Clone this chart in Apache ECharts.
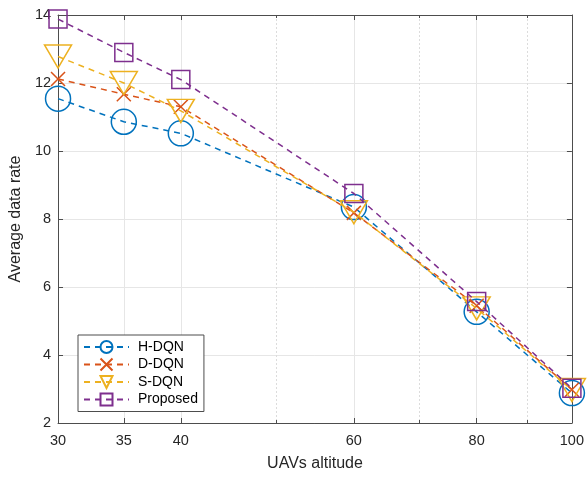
<!DOCTYPE html>
<html><head><meta charset="utf-8">
<script src="https://cdn.jsdelivr.net/npm/echarts@6/dist/echarts.min.js"></script>
<style>html,body{margin:0;padding:0;background:#fff}#c{width:587px;height:477px}</style>
</head><body><div id="c"></div>
<script>
const altitudes = [30, 35, 40, 60, 80, 100];
const hdqn = [11.54, 10.86, 10.52, 8.35, 5.27, 2.88];
const ddqn = [12.12, 11.67, 11.30, 8.18, 5.45, 2.98];
const sdqn = [12.78, 12.00, 11.18, 8.20, 5.37, 2.97];
const proposed = [13.88, 12.90, 12.10, 8.75, 5.57, 3.02];
const xTickLabels = [30, 35, 40, 60, 80, 100];
const xMinorTicks = [50, 70, 90];
const yTicks = [2, 4, 6, 8, 10, 12, 14];

const FONT = 'Liberation Sans, Arial, sans-serif';
const TXT = '#262626';
const AX = '#4d4d4d';
const names = ['H-DQN', 'D-DQN', 'S-DQN', 'Proposed'];
const colors = ['#0072BD', '#D95319', '#EDB120', '#7E2F8E'];
const symbols = ['circle', 'path://M0,0L10,10M10,0L0,10', 'path://M0,0L20,0L10,17.3Z', 'rect'];
const sizes = [25, 14, [27, 23], 18];
const datas = [hdqn, ddqn, sdqn, proposed];

const chart = echarts.init(document.getElementById('c'));
const grid = {left: 53, right: 14, top: 15, bottom: 51};
const xCommon = {type: 'log', logBase: 10, min: 30, max: 100};
chart.setOption({
  animation: false,
  grid: grid,
  xAxis: [
    Object.assign({}, xCommon, {
      position: 'bottom',
      name: 'UAVs altitude', nameLocation: 'middle', nameGap: 33,
      nameTextStyle: {fontFamily: FONT, fontSize: 16, color: TXT},
      axisLine: {lineStyle: {color: AX, width: 1}},
      axisTick: {inside: true, length: 5, customValues: xTickLabels, lineStyle: {color: AX}},
      axisLabel: {customValues: xTickLabels, fontFamily: FONT, fontSize: 14.5, color: TXT, margin: 10, formatter: v => String(Math.round(v))},
      splitLine: {show: true, lineStyle: {color: '#e6e6e6', width: 1}}
    }),
    Object.assign({}, xCommon, {
      position: 'top',
      axisLine: {onZero: false, lineStyle: {color: AX, width: 1}},
      axisTick: {inside: true, length: 5, customValues: xTickLabels, lineStyle: {color: AX}},
      axisLabel: {show: false},
      splitLine: {show: false}
    }),
    Object.assign({}, xCommon, {
      position: 'bottom',
      axisLine: {show: false},
      axisTick: {inside: true, length: 3, customValues: xMinorTicks, lineStyle: {color: AX}},
      axisLabel: {show: false},
      splitLine: {show: true, lineStyle: {color: '#dcdcdc', width: 1, type: [2, 2]}}
    }),
    Object.assign({}, xCommon, {
      position: 'top',
      axisLine: {show: false},
      axisTick: {inside: true, length: 3, customValues: xMinorTicks, lineStyle: {color: AX}},
      axisLabel: {show: false},
      splitLine: {show: false}
    })
  ],
  yAxis: [
    {
      type: 'value', min: 2, max: 14, interval: 2, position: 'left',
      name: 'Average data rate', nameLocation: 'middle', nameGap: 31,
      nameTextStyle: {fontFamily: FONT, fontSize: 16, color: TXT},
      axisLine: {show: true, lineStyle: {color: AX}},
      axisTick: {show: true, inside: true, length: 5, lineStyle: {color: AX}},
      axisLabel: {fontFamily: FONT, fontSize: 14.5, color: TXT, margin: 7, formatter: v => yTicks.includes(v) ? String(v) : ''},
      splitLine: {show: true, lineStyle: {color: '#e6e6e6', width: 1}}
    },
    {
      type: 'value', min: 2, max: 14, interval: 2, position: 'right',
      axisLine: {show: true, onZero: false, lineStyle: {color: AX}},
      axisTick: {show: true, inside: true, length: 5, lineStyle: {color: AX}},
      axisLabel: {show: false},
      splitLine: {show: false}
    }
  ],
  legend: {
    orient: 'vertical', left: 78, top: 335,
    backgroundColor: '#fff', borderColor: AX, borderWidth: 1,
    padding: [5, 6, 5, 5], itemGap: 3.5, itemWidth: 45, itemHeight: 15,
    textStyle: {fontFamily: FONT, fontSize: 14, color: '#000', padding: [0, 0, 0, 4]},
    data: names
  },
  series: names.map((n, i) => ({
    name: n, type: 'line', xAxisIndex: 0, yAxisIndex: 0,
    data: altitudes.map((a, j) => [a, datas[i][j]]),
    symbol: symbols[i], symbolSize: sizes[i],
    showAllSymbol: true,
    lineStyle: {color: colors[i], width: 1.5, type: [6, 5]},
    itemStyle: {color: 'rgba(255,255,255,0)', borderColor: colors[i], borderWidth: 1.5},
    emphasis: {disabled: true},
    z: 2 + i
  }))
});
</script></body></html>
